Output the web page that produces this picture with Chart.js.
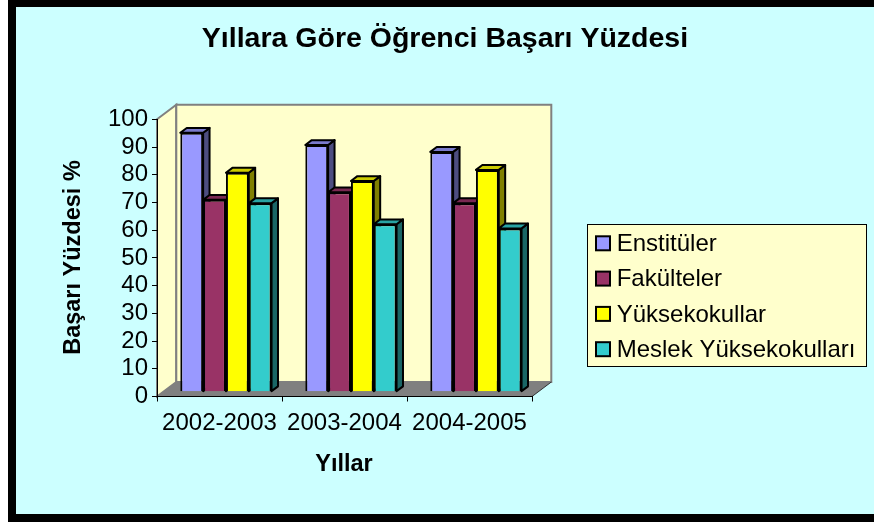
<!DOCTYPE html>
<html>
<head>
<meta charset="utf-8">
<script src="https://cdn.jsdelivr.net/npm/chart.js@4.4.0/dist/chart.umd.min.js"></script>
<style>
html, body { margin: 0; padding: 0; background: #fff; }
canvas { display: block; }
</style>
</head>
<body>
<canvas id="basariChart" width="874" height="525"></canvas>
<script>
const years = ['2002-2003', '2003-2004', '2004-2005'];
const seriesNames = ['Enstitüler', 'Fakülteler', 'Yüksekokullar', 'Meslek Yüksekokulları'];
const seriesColors = ['#9999FF', '#993366', '#FFFF00', '#33CCCC'];
const enstituler = [93.4, 89.0, 86.5];
const fakulteler = [69.2, 71.9, 68.0];
const yuksekokullar = [79.0, 76.0, 80.0];
const meslekYuksekokullari = [68.0, 60.4, 58.9];

const FONT = '"Liberation Sans", Arial, sans-serif';
const DX = 19.3, DY = 14.5; // depth of the 3d box

function shade(hex, f) {
    const n = parseInt(hex.slice(1), 16);
    const r = Math.round(((n >> 16) & 255) * f);
    const g = Math.round(((n >> 8) & 255) * f);
    const b = Math.round((n & 255) * f);
    return `rgb(${r},${g},${b})`;
}

function poly(ctx, pts, fill, stroke, lw) {
    ctx.beginPath();
    ctx.moveTo(pts[0][0], pts[0][1]);
    pts.slice(1).forEach(p => ctx.lineTo(p[0], p[1]));
    ctx.closePath();
    if (fill) { ctx.fillStyle = fill; ctx.fill(); }
    if (stroke) { ctx.strokeStyle = stroke; ctx.lineWidth = lw || 1; ctx.stroke(); }
}

// background, frame, walls and floor
const frame = {
    id: 'frame',
    beforeDraw(chart) {
        const ctx = chart.ctx;
        const a = chart.chartArea;
        ctx.save();
        ctx.fillStyle = '#fff';
        ctx.fillRect(0, 0, chart.width, chart.height);
        ctx.fillStyle = '#000';
        ctx.fillRect(8, 0, chart.width, 522);
        ctx.fillStyle = '#CCFFFF';
        ctx.fillRect(16, 7, chart.width, 507);

        // left wall
        poly(ctx, [[a.left, a.top], [a.left + DX, a.top - DY], [a.left + DX, a.bottom - DY], [a.left, a.bottom]], '#FFFFCC', '#808080', 2);
        // back wall
        poly(ctx, [[a.left + DX, a.top - DY], [a.right + DX, a.top - DY], [a.right + DX, a.bottom - DY], [a.left + DX, a.bottom - DY]], '#FFFFCC', '#808080', 2);
        // floor
        poly(ctx, [[a.left, a.bottom], [a.left + DX, a.bottom - DY], [a.right + DX, a.bottom - DY], [a.right, a.bottom]], '#808080', null);
        ctx.beginPath();
        ctx.moveTo(a.right, a.bottom);
        ctx.lineTo(a.right + DX, a.bottom - DY);
        ctx.strokeStyle = '#333';
        ctx.lineWidth = 1;
        ctx.stroke();
        ctx.restore();
    }
};

// bars with top and side faces, drawn left to right
const bars3d = {
    id: 'bars3d',
    beforeDatasetsDraw(chart) {
        const ctx = chart.ctx;
        const dx = DX / 3, dy = DY / 3;
        ctx.save();
        ctx.translate(dx, -dy);
        ctx.lineJoin = 'round';
        for (let j = 0; j < years.length; j++) {
            chart.data.datasets.forEach((ds, i) => {
                const bar = chart.getDatasetMeta(i).data[j];
                const { x, y, base, width } = bar.getProps(['x', 'y', 'base', 'width'], true);
                const l = x - width / 2, r = x + width / 2;
                poly(ctx, [[r, y], [r + dx, y - dy], [r + dx, base - dy], [r, base]], shade(ds.backgroundColor, 0.5), '#000', 2);
                poly(ctx, [[l, y], [l + dx, y - dy], [r + dx, y - dy], [r, y]], shade(ds.backgroundColor, 0.8), '#000', 2);
                bar.draw(ctx);
            });
        }
        ctx.restore();
        return false;
    }
};

// titles and legend box
const texts = {
    id: 'texts',
    afterDraw(chart) {
        const ctx = chart.ctx;
        ctx.save();
        ctx.fillStyle = '#000';
        ctx.textAlign = 'center';
        ctx.textBaseline = 'alphabetic';
        ctx.font = 'bold 28.5px ' + FONT;
        ctx.fillText('Yıllara Göre Öğrenci Başarı Yüzdesi', 445, 46.7);

        ctx.textBaseline = 'middle';
        ctx.font = 'bold 23.5px ' + FONT;
        ctx.fillText('Yıllar', 344, 465);
        ctx.save();
        ctx.translate(73.3, 257.5);
        ctx.rotate(-Math.PI / 2);
        ctx.fillText('Başarı Yüzdesi %', 0, 0);
        ctx.restore();

        // legend
        ctx.fillStyle = '#FFFFCC';
        ctx.fillRect(587, 224.5, 279, 142);
        ctx.strokeStyle = '#000';
        ctx.lineWidth = 1;
        ctx.strokeRect(587.5, 224.5, 279, 142);
        ctx.font = '24px ' + FONT;
        ctx.textAlign = 'left';
        seriesNames.forEach((name, i) => {
            const cy = 243.3 + i * 35.3;
            ctx.fillStyle = seriesColors[i];
            ctx.fillRect(596, cy - 7, 14, 14);
            ctx.lineWidth = 2;
            ctx.strokeRect(596, cy - 7, 14, 14);
            ctx.fillStyle = '#000';
            ctx.fillText(name, 616.7, cy + 1);
        });
        ctx.restore();
    }
};

const seriesData = [enstituler, fakulteler, yuksekokullar, meslekYuksekokullari];

new Chart(document.getElementById('basariChart'), {
    type: 'bar',
    data: {
        labels: years,
        datasets: seriesNames.map((name, i) => ({
            label: name,
            data: seriesData[i],
            backgroundColor: seriesColors[i],
            borderColor: '#000',
            borderWidth: 2,
            categoryPercentage: 0.73,
            barPercentage: 1.0
        }))
    },
    options: {
        responsive: false,
        animation: false,
        devicePixelRatio: 1,
        layout: { padding: { left: 0, top: 119.3, right: 342, bottom: 88.5 } },
        plugins: {
            legend: { display: false },
            title: { display: false },
            tooltip: { enabled: false }
        },
        scales: {
            x: {
                offset: true,
                grid: { offset: true, drawOnChartArea: false, tickLength: 5, color: '#000' },
                border: { color: '#000', width: 1 },
                ticks: { color: '#000', font: { family: FONT, size: 24 }, padding: 7, maxRotation: 0, autoSkip: false },
                afterFit(s) { s.height = 40; }
            },
            y: {
                min: 0,
                max: 100,
                ticks: { stepSize: 10, color: '#000', font: { family: FONT, size: 24 }, padding: 4, autoSkip: false },
                grid: { drawOnChartArea: false, tickLength: 5, color: '#000' },
                border: { color: '#000', width: 1 },
                afterFit(s) { s.width = 157; }
            }
        }
    },
    plugins: [frame, bars3d, texts]
});
</script>
</body>
</html>
